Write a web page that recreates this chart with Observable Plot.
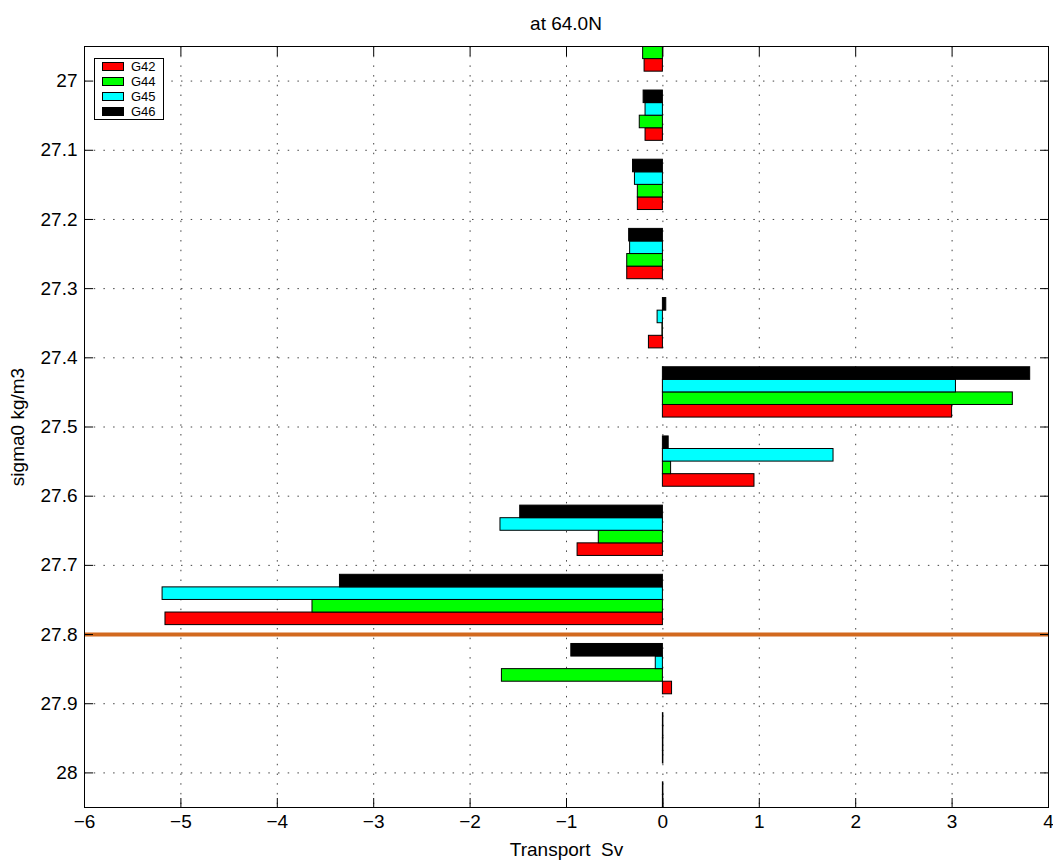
<!DOCTYPE html>
<html><head><meta charset="utf-8">
<script src="https://cdn.jsdelivr.net/npm/d3@7"></script>
<script src="https://cdn.jsdelivr.net/npm/@observablehq/plot@0.6"></script>
<style>
body{margin:0;background:#fff;}
#wrap{position:relative;width:1053px;height:864px;font-family:"Liberation Sans",Arial,Helvetica,sans-serif;background:#fff;}
#title{position:absolute;left:84px;width:964px;top:14px;text-align:center;font-size:19px;line-height:19px;color:#000;}
#legend{position:absolute;left:94px;top:58px;width:70px;height:62px;box-sizing:border-box;border:1px solid #000;background:#fff;font-size:13px;}
.row{height:15px;display:flex;align-items:center;}
.sw{width:22px;height:9px;box-sizing:border-box;border:1px solid #000;margin-left:7px;margin-right:7px;}
</style></head>
<body><div id="wrap"><div id="chart"></div><div id="title">at 64.0N</div><div id="legend"></div></div>
<script>
// bin centres (sigma0) of the grouped horizontal bars
const sigmaCenters = [26.95, 27.05, 27.15, 27.25, 27.35, 27.45, 27.55, 27.65, 27.75, 27.85, 27.95, 28.05];
const seriesNames = ["G42", "G44", "G45", "G46"];
const seriesColors = ["#ff0000", "#00ff00", "#00ffff", "#000000"];
// transport (Sv) per bin
const G42 = [-0.19, -0.18, -0.26, -0.37, -0.145, 3.00, 0.95, -0.885, -5.16, 0.095, 0.005, 0.005];
const G44 = [-0.205, -0.24, -0.26, -0.37, -0.005, 3.63, 0.085, -0.665, -3.635, -1.67, 0.005, 0.005];
const G45 = [-0.20, -0.18, -0.29, -0.34, -0.055, 3.04, 1.77, -1.685, -5.19, -0.074, 0.005, 0.005];
const G46 = [-0.22, -0.20, -0.31, -0.35, 0.035, 3.81, 0.06, -1.48, -3.35, -0.95, 0.005, 0.005];
const xTicks = [-6, -5, -4, -3, -2, -1, 0, 1, 2, 3, 4];
const yTicks = [27, 27.1, 27.2, 27.3, 27.4, 27.5, 27.6, 27.7, 27.8, 27.9, 28];
const refSigma = [27.8];
const binStep = 0.1;

const seriesValues = [G42, G44, G45, G46];
const barH = binStep * (4 / 5.5) / 4;
const rows = [];
seriesNames.forEach((name, j) => {
  sigmaCenters.forEach((c, i) => {
    rows.push({series: name, value: seriesValues[j][i], y1: c + (1 - j) * barH, y2: c + (2 - j) * barH});
  });
});

const font = '"Liberation Sans",Arial,Helvetica,sans-serif';
const plot = Plot.plot({
  width: 1053, height: 864,
  marginLeft: 84, marginRight: 5, marginTop: 46, marginBottom: 57,
  style: {fontFamily: font, background: "white", color: "black"},
  x: {domain: [-6, 4]},
  y: {domain: [26.95, 28.05], reverse: true},
  color: {domain: seriesNames, range: seriesColors},
  marks: [
    Plot.ruleX(xTicks, {stroke: "#444", strokeDasharray: "1.5,8.2"}),
    Plot.ruleY(yTicks, {stroke: "#444", strokeDasharray: "1.5,8.2"}),
    Plot.rect(rows, {x1: d => 0, x2: "value", y1: "y1", y2: "y2", fill: "series", stroke: "black", strokeWidth: 1, clip: true}),
    Plot.ruleY(refSigma, {stroke: "#d2691e", strokeWidth: 4}),
    Plot.axisX({ticks: xTicks, anchor: "bottom", tickSize: -9, tickPadding: 16, fontSize: 19, label: "Transport  Sv", labelAnchor: "center", labelArrow: "none", labelOffset: 48}),
    Plot.axisX({ticks: xTicks, anchor: "top", tickSize: -9, tickFormat: () => "", label: null}),
    Plot.axisY({ticks: yTicks, anchor: "left", tickSize: -9, tickPadding: 16, fontSize: 19, tickFormat: d => d3.format(".1~f")(d), label: "sigma0 kg/m3", labelAnchor: "center", labelArrow: "none", labelOffset: 74}),
    Plot.axisY({ticks: yTicks, anchor: "right", tickSize: -9, tickFormat: () => "", label: null}),
    Plot.frame({stroke: "black"})
  ]
});
document.getElementById("chart").appendChild(plot);

const legend = document.getElementById("legend");
seriesNames.forEach((name, j) => {
  const row = document.createElement("div");
  row.className = "row";
  const sw = document.createElement("div");
  sw.className = "sw";
  sw.style.background = seriesColors[j];
  const t = document.createElement("span");
  t.textContent = name;
  row.appendChild(sw); row.appendChild(t);
  legend.appendChild(row);
});
</script>
</body></html>
